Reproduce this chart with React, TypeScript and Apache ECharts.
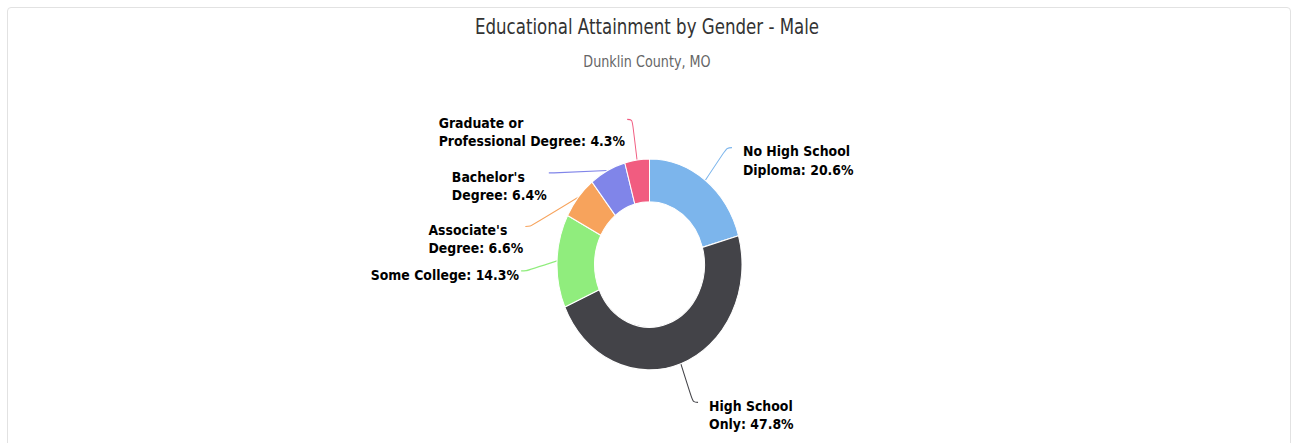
import React, { useEffect, useRef } from "react";
import * as echarts from "echarts";

const titleText = "Educational Attainment by Gender - Male";
const subtitleText = "Dunklin County, MO";
const categories = [
  "No High School Diploma",
  "High School Only",
  "Some College",
  "Associate's Degree",
  "Bachelor's Degree",
  "Graduate or Professional Degree",
];
const values = [20.6, 47.8, 14.3, 6.6, 6.4, 4.3];
const breakAfterWords = [3, 2, 0, 1, 1, 2];
const colors = ["#7cb5ec", "#434348", "#90ed7d", "#f7a35c", "#8085e9", "#f15c80"];

const SCALE_Y = 1.14;
const W = 1294;
const H = Math.round(443 / SCALE_Y);

function labelFor(name: string, value: number, brk: number): string {
  const words = name.split(" ");
  const text = `${name}: ${value.toFixed(1)}%`;
  if (brk <= 0) return text;
  const first = words.slice(0, brk).join(" ");
  const rest = words.slice(brk).join(" ");
  return `${first}\n${rest}: ${value.toFixed(1)}%`;
}

export default function App() {
  const ref = useRef<HTMLDivElement>(null);
  useEffect(() => {
    if (!ref.current) return;
    const chart = echarts.init(ref.current, undefined, { renderer: "svg" });
    const condensed = '"DejaVu Sans Condensed", "DejaVu Sans", sans-serif';
    chart.setOption({
      animation: false,
      color: colors,
      title: {
        text: titleText,
        subtext: subtitleText,
        left: "center",
        top: 7.7,
        itemGap: 11.7,
        textStyle: {
          fontFamily: condensed,
          fontSize: 18.5,
          fontWeight: "normal",
          color: "#333333",
          lineHeight: 22,
        },
        subtextStyle: {
          fontFamily: condensed,
          fontSize: 14.2,
          color: "#666666",
          lineHeight: 16,
        },
      },
      series: [
        {
          type: "pie",
          center: [649.5, 232],
          radius: [55, 92.5],
          startAngle: 90,
          clockwise: true,
          avoidLabelOverlap: true,
          itemStyle: { borderColor: "#ffffff", borderWidth: 1 },
          label: {
            show: true,
            position: "outside",
            formatter: (p: any) => labelFor(p.name, p.value, breakAfterWords[p.dataIndex]),
            fontFamily: '"DejaVu Sans", Verdana, sans-serif',
            fontWeight: "bold",
            fontSize: 12.5,
            lineHeight: 16,
            color: "#000000",
            minMargin: 15,
          },
          labelLine: {
            show: true,
            length: 36,
            length2: 5,
            smooth: 0.35,
            lineStyle: { width: 1 },
          },
          labelLayout: (p: any) => ({
            x: p.labelRect.x + (p.align === "left" ? 6 : 3),
            y: p.labelRect.y + p.labelRect.height / 2 - 4.5,
            align: "left",
            verticalAlign: "top",
            labelLinePoints: p.labelLinePoints,
          }),
          emphasis: { disabled: true },
          data: categories.map((c, i) => ({ name: c, value: values[i] })),
        },
      ],
    });
    return () => chart.dispose();
  }, []);
  return (
    <div style={{ position: "absolute", left: 0, top: 0, width: W, height: 443, overflow: "hidden", background: "#fff" }}>
      <div
        style={{
          position: "absolute",
          left: 7,
          top: 7,
          width: 1284,
          height: 500,
          border: "1px solid #e2e2e2",
          borderRadius: 4,
          boxSizing: "border-box",
        }}
      />
      <div
        ref={ref}
        style={{
          position: "absolute",
          left: 0,
          top: 0,
          width: W,
          height: H,
          transform: `scaleY(${SCALE_Y})`,
          transformOrigin: "0 0",
        }}
      />
    </div>
  );
}
